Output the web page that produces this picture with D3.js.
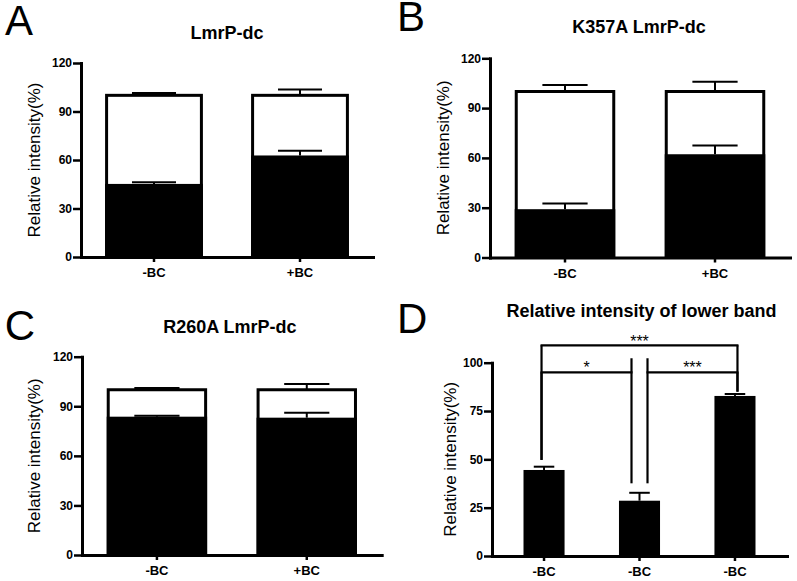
<!DOCTYPE html>
<html>
<head>
<meta charset="utf-8">
<script src="https://cdn.jsdelivr.net/npm/d3@7"></script>
<style>
  body { margin: 0; background: #fff; }
  svg { display: block; font-family: "Liberation Sans", Arial, sans-serif; }
</style>
</head>
<body>
<svg id="chart" width="797" height="581"></svg>
<script>
// ---- data ----
const yTicks120 = [0, 30, 60, 90, 120];
const yTicks100 = [0, 25, 50, 75, 100];
const yLabel = "Relative intensity(%)";

// A: LmrP-dc
const catsA = ["-BC", "+BC"];
const totalA = [100, 100];
const totalErrA = [1.5, 3.6];
const lowerA = [45.2, 62.8];
const lowerErrA = [1.0, 2.9];

// B: K357A LmrP-dc
const catsB = ["-BC", "+BC"];
const totalB = [100, 100];
const totalErrB = [3.9, 5.9];
const lowerB = [29.1, 62.2];
const lowerErrB = [3.4, 5.2];

// C: R260A LmrP-dc
const catsC = ["-BC", "+BC"];
const totalC = [100, 100];
const totalErrC = [1.1, 3.5];
const lowerC = [83.7, 83.1];
const lowerErrC = [0.6, 3.0];

// D: relative intensity of lower band
const catsD = ["-BC", "-BC", "-BC"];
const lowerD = [44.5, 28.6, 82.8];
const lowerErrD = [1.7, 4.1, 1.0];
const sigPairs = [[0, 1], [1, 2], [0, 2]];
const sigLabels = ["*", "***", "***"];
const sigLevels = [95, 95, 109];
const sigFoot = [49.7, 37.6, 85];

const svg = d3.select("#chart");

function styleAxis(a, size) {
  a.attr("font-family", null).attr("font-size", null);
  a.select(".domain").attr("stroke-width", 3).attr("stroke-linecap", "square");
  a.selectAll(".tick line").attr("stroke-width", 2.5);
  a.selectAll(".tick text")
    .attr("font-size", size).attr("font-weight", "bold").attr("fill", "#000");
}

function errorBars(g, x, y, vals, errs, capFrac) {
  const cap = x.bandwidth() * capFrac;
  vals.forEach((v, i) => {
    const cx = x(i) + x.bandwidth() / 2;
    g.append("line")
      .attr("x1", cx).attr("x2", cx)
      .attr("y1", y(v)).attr("y2", y(v + errs[i]))
      .attr("stroke", "#000").attr("stroke-width", 2);
    g.append("line")
      .attr("x1", cx - cap / 2).attr("x2", cx + cap / 2)
      .attr("y1", y(v + errs[i])).attr("y2", y(v + errs[i]))
      .attr("stroke", "#000").attr("stroke-width", 2);
  });
}

function frame(p, x, y, ticks, cats) {
  const g = p.g;
  const yAxis = g.append("g")
    .attr("transform", `translate(${x.range()[0]},0)`)
    .call(d3.axisLeft(y).tickValues(ticks).tickSize(8).tickSizeOuter(0).tickPadding(1));
  styleAxis(yAxis, 12);
  const xAxis = g.append("g")
    .attr("transform", `translate(0,${y.range()[0]})`)
    .call(d3.axisBottom(x).tickSize(5).tickSizeOuter(0).tickPadding(6)
      .tickFormat(i => cats[i]));
  styleAxis(xAxis, 13);

  const midX = (x.range()[0] + x.range()[1]) / 2;
  const midY = (y.range()[0] + y.range()[1]) / 2;
  g.append("text")
    .attr("x", midX + p.titleDx).attr("y", p.titleY)
    .attr("text-anchor", "middle").attr("font-size", 18).attr("font-weight", "bold")
    .text(p.title);
  g.append("text")
    .attr("transform", `translate(${x.range()[0] - p.labelOff},${midY}) rotate(-90)`)
    .attr("text-anchor", "middle").attr("font-size", 17)
    .text(yLabel);
  g.append("text")
    .attr("x", p.letterX).attr("y", p.letterY)
    .attr("font-size", 42)
    .text(p.letter);
}

function stackedPanel(p, cats, total, totalErr, lower, lowerErr) {
  p.g = svg.append("g");
  const x = d3.scaleBand().domain(d3.range(cats.length))
    .range([p.left, p.right]).paddingInner(0.33).paddingOuter(0.165);
  const y = d3.scaleLinear().domain([0, 120]).range([p.bottom, p.top]);

  p.g.selectAll(".total").data(total).join("rect")
    .attr("x", (d, i) => x(i) + 1.5).attr("width", x.bandwidth() - 3)
    .attr("y", d => y(d)).attr("height", d => y(0) - y(d))
    .attr("fill", "#fff").attr("stroke", "#000").attr("stroke-width", 3);
  p.g.selectAll(".lower").data(lower).join("rect")
    .attr("x", (d, i) => x(i)).attr("width", x.bandwidth())
    .attr("y", d => y(d)).attr("height", d => y(0) - y(d))
    .attr("fill", "#000");
  errorBars(p.g, x, y, total, totalErr, 0.45);
  errorBars(p.g, x, y, lower, lowerErr, 0.45);
  frame(p, x, y, yTicks120, cats);
}

stackedPanel({ left: 81, right: 373, top: 63, bottom: 257, title: "LmrP-dc", titleDx: 0, titleY: 38.5,
  labelOff: 41.5, letter: "A", letterX: 5, letterY: 35 }, catsA, totalA, totalErrA, lowerA, lowerErrA);
stackedPanel({ left: 490, right: 790, top: 58.3, bottom: 257.5, title: "K357A LmrP-dc", titleDx: -1, titleY: 33.3,
  labelOff: 41.5, letter: "B", letterX: 397, letterY: 30.7 }, catsB, totalB, totalErrB, lowerB, lowerErrB);
stackedPanel({ left: 82, right: 381.7, top: 356.7, bottom: 555, title: "R260A LmrP-dc", titleDx: -2, titleY: 333.3,
  labelOff: 42.5, letter: "C", letterX: 4.7, letterY: 340 }, catsC, totalC, totalErrC, lowerC, lowerErrC);

// panel D
(function () {
  const p = { left: 492, right: 787, top: 362.7, bottom: 556, title: "Relative intensity of lower band",
    titleDx: 2, titleY: 316.7, labelOff: 36.5, letter: "D", letterX: 397, letterY: 333.3 };
  p.g = svg.append("g");
  const x = d3.scaleBand().domain(d3.range(catsD.length))
    .range([p.left, p.right]).paddingInner(0.57).paddingOuter(0.33);
  const y = d3.scaleLinear().domain([0, 100]).range([p.bottom, p.top]);

  p.g.selectAll(".bar").data(lowerD).join("rect")
    .attr("x", (d, i) => x(i)).attr("width", x.bandwidth())
    .attr("y", d => y(d)).attr("height", d => y(0) - y(d))
    .attr("fill", "#000");
  errorBars(p.g, x, y, lowerD, lowerErrD, 0.5);

  const cx = i => x(i) + x.bandwidth() / 2;
  const inner = i => i !== 0 && i !== catsD.length - 1;
  const armX = (i, dir) => cx(i) + (inner(i) ? 8 * dir : -2.5 * dir);
  const line = (x1, y1, x2, y2) => p.g.append("line")
    .attr("x1", x1).attr("y1", y1).attr("x2", x2).attr("y2", y2)
    .attr("stroke", "#000").attr("stroke-width", 2.2);

  sigPairs.forEach(([a, b], k) => {
    const lvl = sigLevels[k];
    const xa = armX(a, 1), xb = armX(b, -1);
    line(xa - 1, y(lvl), xb + 1, y(lvl));
    line(xa, y(sigFoot[a]), xa, y(inner(a) ? lvl + 7.3 : lvl));
    line(xb, y(sigFoot[b]), xb, y(inner(b) ? lvl + 7.3 : lvl));
    p.g.append("text")
      .attr("x", (xa + xb) / 2).attr("y", y(lvl) + (k === 2 ? 1.5 : 1))
      .attr("text-anchor", "middle").attr("font-size", 16)
      .text(sigLabels[k]);
  });

  frame(p, x, y, yTicks100, catsD);
})();
</script>
</body>
</html>
